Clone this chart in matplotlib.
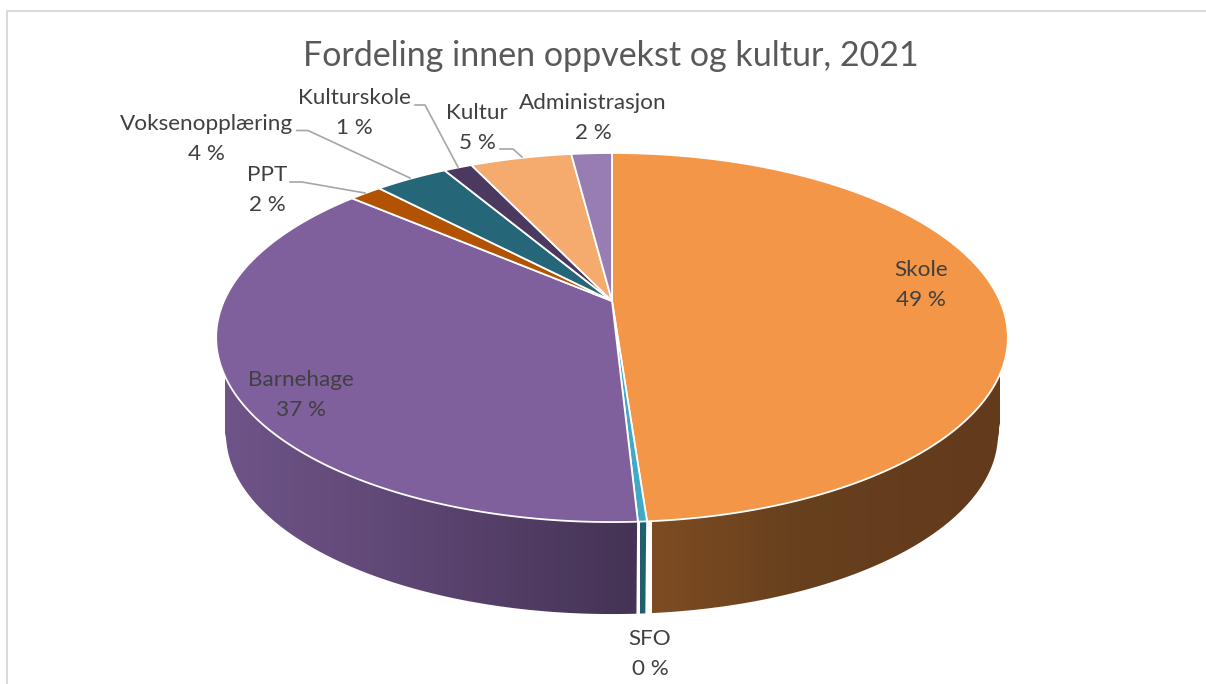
import numpy as np
import matplotlib
matplotlib.use('Agg')
import matplotlib.pyplot as plt
from matplotlib.colors import LinearSegmentedColormap
from matplotlib.patches import PathPatch
from matplotlib.path import Path

# Shares as drawn, clockwise from the top
categories = ['Skole', 'SFO', 'Barnehage', 'PPT', 'Voksenopplæring',
              'Kulturskole', 'Kultur', 'Administrasjon']
shares = [48.65, 0.3, 37.05, 1.6, 3.6, 1.4, 5.0, 2.0]
title = 'Fordeling innen oppvekst og kultur, 2021'

top_colors = ['#F49647', '#3FA9C6', '#7F609D', '#B25304',
              '#256779', '#4B3960', '#F5AB6E', '#977DB2']

# Side wall colour stops, only the slices that face the viewer
wall_stops = {
    'Skole': [(652, '#7E4C22'), (800, '#67401E'), (1000, '#633A1C')],
    'SFO': [(640, '#215F70'), (660, '#215F70')],
    'Barnehage': [(225, '#6E5488'), (400, '#5F4775'), (640, '#443354')],
}

# Label centres [px]
label_pos = {
    'Skole': (921, 285), 'SFO': (650, 654), 'Barnehage': (301, 395),
    'PPT': (267, 190), 'Voksenopplæring': (206, 139),
    'Kulturskole': (354, 113), 'Kultur': (477, 128),
    'Administrasjon': (593, 118),
}

# Leader lines [px]
leaders = [
    ([290, 302, 365], [182, 182, 193]),
    ([297, 308, 410], [130.5, 130.5, 178]),
    ([415, 425, 458], [105, 105, 167]),
    ([500, 513, 522], [149, 149, 157]),
]

# Pie geometry in pixels (perspective view of a circle)
cx, apex_y = 612, 301
k, a, s = 0.198, 388, 177.3
wall_dy, wall_scale = 97.5, 0.975


def project(theta, scale=1.0, dy=0.0):
    x, y = np.sin(theta), np.cos(theta)
    w = 1 + k * y
    return cx + a * scale * x / w, apex_y + dy - s * scale * y / w


def wall_path(t):
    # one quad per step, all wound the same way so that they add up
    x0, y0 = project(t)
    x1, y1 = project(t, wall_scale, wall_dy)
    verts, codes = [], []
    for j in range(len(t) - 1):
        q = [(x0[j], y0[j]), (x0[j + 1], y0[j + 1]),
             (x1[j + 1], y1[j + 1]), (x1[j], y1[j])]
        qx, qy = np.array(q).T
        area = np.dot(qx, np.roll(qy, -1)) - np.dot(qy, np.roll(qx, -1))
        if area < 0:
            q = q[::-1]
        verts += q + [q[0]]
        codes += [Path.MOVETO, Path.LINETO, Path.LINETO, Path.LINETO, Path.CLOSEPOLY]
    return Path(verts, codes)


plt.rcParams['font.family'] = ['Lato', 'DejaVu Sans']

fig = plt.figure(figsize=(12.06, 6.84), dpi=100)
ax = fig.add_axes([0, 0, 1, 1])

# chart frame, cut off by the screenshot
ax.plot([7, 7, 1206], [684, 10.5, 10.5], color='#D9D9D9', lw=1.4, zorder=0)

fracs = np.array(shares) / sum(shares)
edges = np.concatenate([[0], np.cumsum(fracs)]) * 2 * np.pi

# side walls, a horizontal gradient clipped to each wall's outline
for i, name in enumerate(categories):
    if name not in wall_stops:
        continue
    t = np.linspace(edges[i], edges[i + 1], 300)
    stops = wall_stops[name]
    lo, hi = stops[0][0], stops[-1][0]
    cmap = LinearSegmentedColormap.from_list(
        name, [((p - lo) / (hi - lo), c) for p, c in stops])
    clip = PathPatch(wall_path(t), fc='none', ec='none')
    ax.add_patch(clip)
    grad = np.linspace(0, 1, 512)[None, :]
    im = ax.imshow(grad, cmap=cmap, extent=(lo, hi, 700, 100), aspect='auto', zorder=2)
    im.set_clip_path(clip)

# white seams between the walls
for e in edges[1:3]:
    x0, y0 = project(e)
    x1, y1 = project(e, wall_scale, wall_dy)
    ax.plot([x0, x1], [y0, y1], color='white', lw=1.2, zorder=3)

# top faces
for i in range(len(categories)):
    t = np.linspace(edges[i], edges[i + 1], max(4, int(fracs[i] * 500)))
    x, y = project(t)
    ax.fill(np.r_[cx, x], np.r_[apex_y, y], facecolor=top_colors[i],
            edgecolor='white', lw=1.3, joinstyle='round', zorder=4)

for xs, ys in leaders:
    ax.plot(xs, ys, color='#A6A6A6', lw=1.2, zorder=5)

for name, v in zip(categories, shares):
    px, py = label_pos[name]
    ax.text(px, py, f'{name}\n{v:.0f} %', ha='center', va='center',
            fontsize=16.2, color='#404040', linespacing=1.6, zorder=6)

ax.text(611, 56, title, ha='center', va='center', fontsize=24.5, color='#595959')

ax.set_xlim(0, 1206)
ax.set_ylim(684, 0)
ax.axis('off')

fig.savefig('out.png', dpi=100)
